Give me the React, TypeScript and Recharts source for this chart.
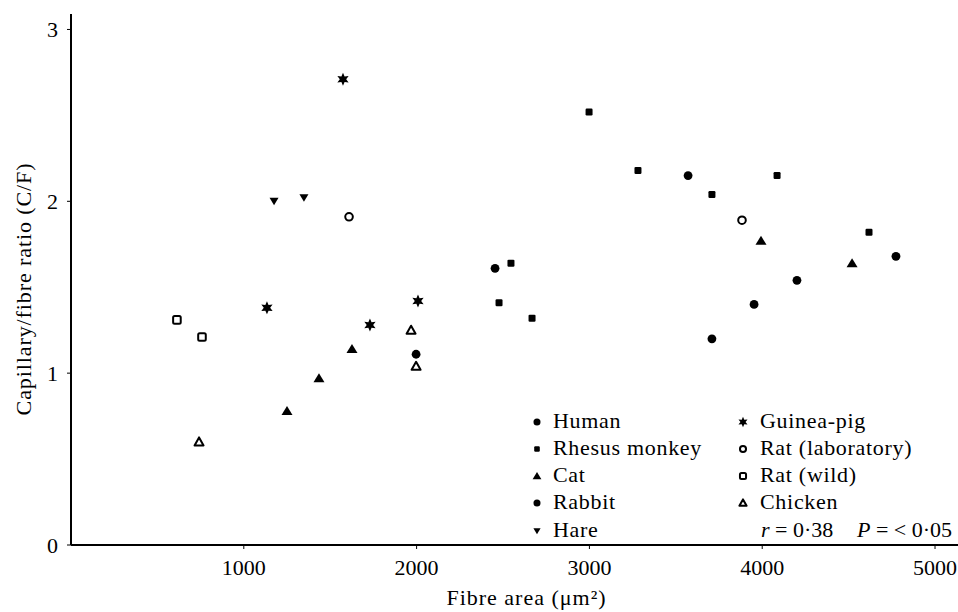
import React from 'react'
import { ScatterChart, Scatter, XAxis, YAxis, Legend } from 'recharts'

const FONT = '"Liberation Serif", "Times New Roman", serif'

// values: fibre area (µm²) vs capillary/fibre ratio
const humanX = [2454, 3571, 3709, 3953, 4201, 4774]
const humanY = [1.61, 2.15, 1.2, 1.4, 1.54, 1.68]
const rhesusX = [2477, 2546, 2668, 2998, 3281, 3709, 4086, 4618]
const rhesusY = [1.41, 1.64, 1.32, 2.52, 2.18, 2.04, 2.15, 1.82]
const catX = [1250, 1435, 1626, 3993, 4520]
const catY = [0.78, 0.97, 1.14, 1.77, 1.64]
const rabbitX = [1997]
const rabbitY = [1.11]
const hareX = [1175, 1348]
const hareY = [2.0, 2.02]
const guineaPigX = [1134, 1574, 1730, 2008]
const guineaPigY = [1.38, 2.71, 1.28, 1.42]
const ratLabX = [1609, 3883]
const ratLabY = [1.91, 1.89]
const ratWildX = [613, 758]
const ratWildY = [1.31, 1.21]
const chickenX = [741, 1968, 1997]
const chickenY = [0.6, 1.25, 1.04]

const xTicks = [1000, 2000, 3000, 4000, 5000]
const yTicks = [0, 1, 2, 3]

const pts = (xs: number[], ys: number[]) => xs.map((x, i) => ({ x, y: ys[i] }))

type Kind = 'dot' | 'square' | 'triUp' | 'triDown' | 'star' | 'openCircle' | 'openSquare' | 'openTri'

const series: { name: string; kind: Kind; data: { x: number; y: number }[] }[] = [
  { name: 'Human', kind: 'dot', data: pts(humanX, humanY) },
  { name: 'Rhesus monkey', kind: 'square', data: pts(rhesusX, rhesusY) },
  { name: 'Cat', kind: 'triUp', data: pts(catX, catY) },
  { name: 'Rabbit', kind: 'dot', data: pts(rabbitX, rabbitY) },
  { name: 'Hare', kind: 'triDown', data: pts(hareX, hareY) },
  { name: 'Guinea-pig', kind: 'star', data: pts(guineaPigX, guineaPigY) },
  { name: 'Rat (laboratory)', kind: 'openCircle', data: pts(ratLabX, ratLabY) },
  { name: 'Rat (wild)', kind: 'openSquare', data: pts(ratWildX, ratWildY) },
  { name: 'Chicken', kind: 'openTri', data: pts(chickenX, chickenY) },
]

function marker(kind: Kind, cx: number, cy: number, s = 1) {
  switch (kind) {
    case 'dot':
      return <circle cx={cx} cy={cy} r={4.4 * s} fill="#000" />
    case 'square':
      return <rect x={cx - 3.5 * s} y={cy - 3.5 * s} width={7 * s} height={7 * s} rx={1.2} fill="#000" />
    case 'triUp':
      return (
        <polygon
          points={`${cx},${cy - 5 * s} ${cx + 5.5 * s},${cy + 4 * s} ${cx - 5.5 * s},${cy + 4 * s}`}
          fill="#000"
        />
      )
    case 'triDown':
      return (
        <polygon
          points={`${cx - 4.5 * s},${cy - 3.5 * s} ${cx + 4.5 * s},${cy - 3.5 * s} ${cx},${cy + 4 * s}`}
          fill="#000"
        />
      )
    case 'star': {
      const p: string[] = []
      for (let i = 0; i < 12; i++) {
        const r = (i % 2 === 0 ? 6.5 : 3.2) * s
        const a = (Math.PI / 6) * i - Math.PI / 2
        p.push(`${cx + r * Math.cos(a)},${cy + r * Math.sin(a)}`)
      }
      return <polygon points={p.join(' ')} fill="#000" />
    }
    case 'openCircle':
      return <circle cx={cx} cy={cy} r={3.8 * s} fill="#fff" stroke="#000" strokeWidth={2} />
    case 'openSquare':
      return (
        <rect x={cx - 3.8 * s} y={cy - 3.8 * s} width={7.6 * s} height={7.6 * s} rx={1.5}
          fill="#fff" stroke="#000" strokeWidth={2} />
      )
    case 'openTri':
      return (
        <polygon
          points={`${cx},${cy - 4.5 * s} ${cx + 4.5 * s},${cy + 3.5 * s} ${cx - 4.5 * s},${cy + 3.5 * s}`}
          fill="#fff" stroke="#000" strokeWidth={2} strokeLinejoin="round"
        />
      )
  }
}

const textStyle = { fontFamily: FONT, fontSize: 22, fill: '#000', letterSpacing: 0.7 }
const plainText = { ...textStyle, letterSpacing: 0 }

// legend drawn inside the plot, two columns, plus the r/P note
const LEGEND_LEFT = 520
const LEGEND_TOP = 400

function LegendBox() {
  const rows = [28, 55, 82, 109, 137]
  return (
    <svg width={438} height={150} style={{ display: 'block', overflow: 'visible' }}>
      {series.map((s, i) => {
        const col = i < 5 ? 0 : 1
        const row = i < 5 ? i : i - 5
        const sx = col === 0 ? 17 : 223
        const tx = col === 0 ? 33 : 240
        const by = rows[row]
        return (
          <g key={s.name}>
            {marker(s.kind, sx, by - 6, 0.8)}
            <text x={tx} y={by} style={textStyle}>{s.name}</text>
          </g>
        )
      })}
      <text x={241} y={rows[4]} style={plainText}>
        <tspan fontStyle="italic">r</tspan> = 0·38
      </text>
      <text x={337} y={rows[4]} style={plainText}>
        <tspan fontStyle="italic">P</tspan> = &lt; 0·05
      </text>
    </svg>
  )
}

const XTick = (props: any) => {
  const { x, y, payload } = props
  return (
    <text x={x} y={y + 26} textAnchor="middle" style={plainText}>
      {payload.value}
    </text>
  )
}

const YTick = (props: any) => {
  const { x, y, payload } = props
  return (
    <text x={x - 9} y={y + 8} textAnchor="end" style={plainText}>
      {payload.value}
    </text>
  )
}

export default function App() {
  return (
    <div style={{ position: 'absolute', left: 0, top: 0, background: '#fff' }}>
      <ScatterChart width={958} height={612} margin={{ top: 14, right: 0, bottom: 0, left: 10 }}>
        <XAxis
          type="number"
          dataKey="x"
          domain={[0, 5133]}
          ticks={xTicks}
          height={67}
          axisLine={{ stroke: '#000', strokeWidth: 2 }}
          tickLine={{ stroke: '#000' }}
          tickSize={4}
          tickMargin={0}
          tick={<XTick />}
          label={(p: any) => {
            const vb = p.viewBox
            return (
              <text x={vb.x + vb.width / 2 + 12} y={vb.y + 60} textAnchor="middle"
                style={{ ...textStyle, letterSpacing: 1 }}>
                Fibre area (μm²)
              </text>
            )
          }}
        />
        <YAxis
          type="number"
          dataKey="y"
          domain={[0, 3.09]}
          ticks={yTicks}
          width={61}
          axisLine={{ stroke: '#000', strokeWidth: 2 }}
          tickLine={{ stroke: '#000' }}
          tickSize={4}
          tickMargin={0}
          tick={<YTick />}
          label={() => (
            <text x={31} y={289} transform="rotate(-90 31 289)" textAnchor="middle"
              style={{ ...textStyle, letterSpacing: 0.9 }}>
              Capillary/fibre ratio (C/F)
            </text>
          )}
        />
        <Legend
          layout="vertical"
          align="center"
          verticalAlign="middle"
          wrapperStyle={{ left: LEGEND_LEFT, top: LEGEND_TOP, width: 438, height: 150 }}
          content={() => <LegendBox />}
        />
        {series.map(s => (
          <Scatter
            key={s.name}
            name={s.name}
            data={s.data}
            isAnimationActive={false}
            shape={(p: any) => marker(s.kind, p.cx, p.cy)}
          />
        ))}
      </ScatterChart>
    </div>
  )
}
